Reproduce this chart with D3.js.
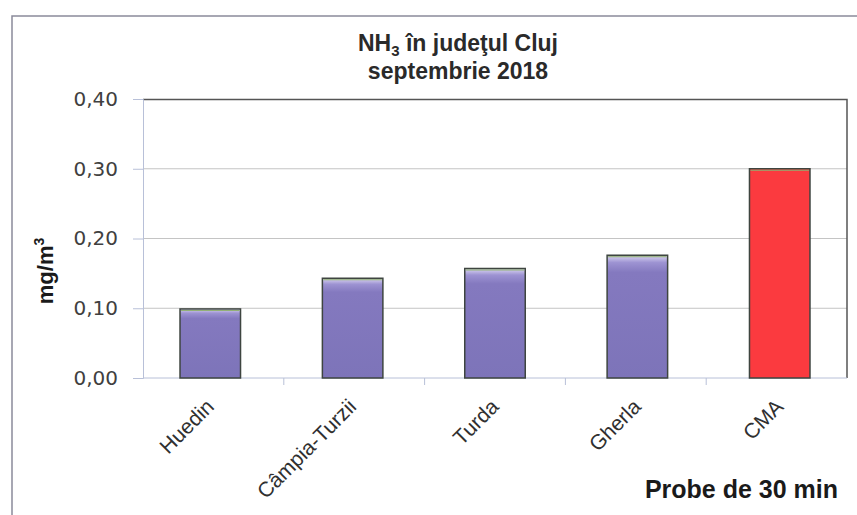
<!DOCTYPE html>
<html>
<head>
<meta charset="utf-8">
<script src="https://cdn.jsdelivr.net/npm/d3@7"></script>
<style>
  body { margin: 0; background: #fff; }
  text { font-family: "Liberation Sans", Arial, sans-serif; }
</style>
</head>
<body>
<script>
// data
var stations = ["Huedin", "Câmpia-Turzii", "Turda", "Gherla", "CMA"];
var values = [0.099, 0.143, 0.157, 0.176, 0.30];
var yTicks = [0, 0.1, 0.2, 0.3, 0.4];

var width = 857, height = 515;
var margin = {top: 99, right: 10, bottom: 137, left: 143};
var plotW = width - margin.left - margin.right,
    plotH = height - margin.top - margin.bottom;

var svg = d3.select("body").append("svg")
    .attr("width", width)
    .attr("height", height);

var defs = svg.append("defs");
var grad = defs.append("linearGradient")
    .attr("id", "bevel").attr("x1", 0).attr("y1", 0).attr("x2", 0).attr("y2", 1);
grad.append("stop").attr("offset", "0%").attr("stop-color", "#dcd7f3");
grad.append("stop").attr("offset", "6%").attr("stop-color", "#9d93d2");
grad.append("stop").attr("offset", "14%").attr("stop-color", "#8479bf");
grad.append("stop").attr("offset", "100%").attr("stop-color", "#7d74b9");

// outer frame
svg.append("path")
    .attr("d", "M12," + height + "V16H" + width)
    .attr("fill", "none")
    .attr("stroke", "#8a8a9a")
    .attr("stroke-width", 1.5);

var x = d3.scaleBand()
    .domain(stations)
    .range([0, plotW])
    .paddingInner(0.575)
    .paddingOuter(0.26);

var y = d3.scaleLinear()
    .domain([0, 0.4])
    .range([plotH, 0]);

var g = svg.append("g")
    .attr("transform", "translate(" + margin.left + "," + margin.top + ")");

// gridlines
g.append("g")
    .selectAll("line")
    .data(yTicks.slice(1, 4))
    .enter().append("line")
    .attr("x1", 0).attr("x2", plotW)
    .attr("y1", function(d) { return y(d); })
    .attr("y2", function(d) { return y(d); })
    .attr("stroke", "#c4c4c4")
    .attr("stroke-width", 1);

// plot box top + right
g.append("path")
    .attr("d", "M0,0.5H" + plotW + "V" + plotH)
    .attr("fill", "none")
    .attr("stroke", "#555")
    .attr("stroke-width", 1.5);

// y axis
var yAxis = d3.axisLeft(y)
    .tickValues(yTicks)
    .tickSize(10)
    .tickPadding(15)
    .tickFormat(function(d) { return d3.format(".2f")(d).replace(".", ","); });

var ya = g.append("g").call(yAxis);
ya.attr("font-size", null).attr("font-family", null);
ya.select(".domain").attr("stroke", "#b8c0d8");
ya.selectAll(".tick line").attr("stroke", "#b8c0d8");
ya.selectAll(".tick text")
    .attr("fill", "#404040")
    .style("font-size", "20px")
    .style("font-family", "'DejaVu Sans', sans-serif");

// x axis baseline + ticks between categories
g.append("line")
    .attr("x1", 0).attr("x2", plotW)
    .attr("y1", plotH).attr("y2", plotH)
    .attr("stroke", "#b8c0d8");

g.append("g")
    .selectAll("line")
    .data(d3.range(1, stations.length))
    .enter().append("line")
    .attr("x1", function(i) { return plotW / stations.length * i; })
    .attr("x2", function(i) { return plotW / stations.length * i; })
    .attr("y1", plotH).attr("y2", plotH + 7)
    .attr("stroke", "#b8c0d8");

// bars
g.append("g")
    .selectAll("rect")
    .data(stations)
    .enter().append("rect")
    .attr("x", function(d) { return x(d); })
    .attr("y", function(d, i) { return y(values[i]); })
    .attr("width", x.bandwidth())
    .attr("height", function(d, i) { return plotH - y(values[i]); })
    .attr("fill", function(d) { return d === "CMA" ? "#fb3a3f" : "url(#bevel)"; })
    .attr("stroke", "#3e4540")
    .attr("stroke-width", 1.5);

// thin green top edges
g.append("g")
    .selectAll("line")
    .data(stations)
    .enter().append("line")
    .attr("x1", function(d) { return x(d) + 1; })
    .attr("x2", function(d) { return x(d) + x.bandwidth() - 1; })
    .attr("y1", function(d, i) { return y(values[i]) + 1.5; })
    .attr("y2", function(d, i) { return y(values[i]) + 1.5; })
    .attr("stroke", "#8fb070")
    .attr("stroke-width", 1);

// x labels
g.append("g")
    .selectAll("text")
    .data(stations)
    .enter().append("text")
    .attr("transform", function(d) {
        return "translate(" + (x(d) + x.bandwidth() / 2 + 5) + "," + (plotH + 30) + ") rotate(-45)";
    })
    .attr("text-anchor", "end")
    .attr("fill", "#303030")
    .style("font-size", "21px")
    .text(function(d) { return d; });

// title
var title = svg.append("text")
    .attr("x", 458)
    .attr("y", 51)
    .attr("text-anchor", "middle")
    .attr("fill", "#2a2a2a")
    .style("font-size", "23px")
    .style("font-weight", "bold");
title.append("tspan").text("NH");
title.append("tspan").attr("dy", 5).style("font-size", "15px").text("3");
title.append("tspan").attr("dy", -5).text(" în judeţul Cluj");

svg.append("text")
    .attr("x", 458)
    .attr("y", 79)
    .attr("text-anchor", "middle")
    .attr("fill", "#2a2a2a")
    .style("font-size", "23px")
    .style("font-weight", "bold")
    .text("septembrie 2018");

// y title
var yt = svg.append("text")
    .attr("transform", "translate(53,271) rotate(-90)")
    .attr("text-anchor", "middle")
    .attr("fill", "#1a1a1a")
    .style("font-size", "22px")
    .style("font-weight", "bold");
yt.append("tspan").text("mg/m");
yt.append("tspan").attr("dy", -9).style("font-size", "14px").text("3");

// x title
svg.append("text")
    .attr("x", 838)
    .attr("y", 498)
    .attr("text-anchor", "end")
    .attr("fill", "#1a1a1a")
    .style("font-size", "25px")
    .style("font-weight", "bold")
    .text("Probe de 30 min");
</script>
</body>
</html>
